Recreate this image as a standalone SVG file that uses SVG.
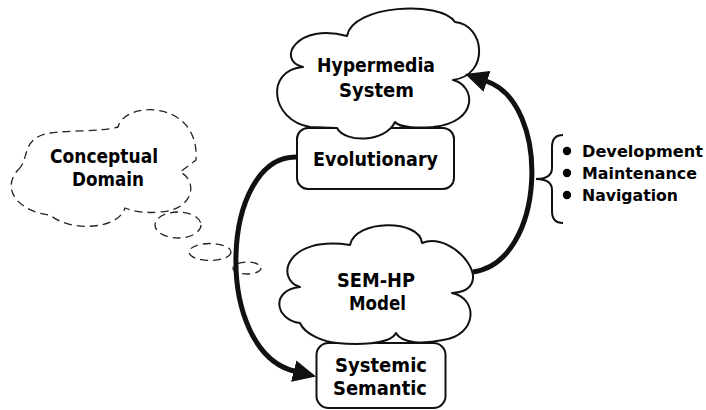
<svg xmlns="http://www.w3.org/2000/svg" width="706" height="410" viewBox="0 0 706 410">
<style>
.t{font-family:"DejaVu Sans","Verdana",sans-serif;font-weight:bold;font-size:19px;fill:#000}
.s{font-family:"DejaVu Sans","Verdana",sans-serif;font-weight:bold;font-size:16.5px;fill:#000}
.cloud{fill:#fff;stroke:#111;stroke-width:2;stroke-linejoin:round}
.dash{fill:#fff;stroke:#222;stroke-width:1.3;stroke-dasharray:8 5}
.box{fill:#fff;stroke:#111;stroke-width:2}
.arr{fill:none;stroke:#111;stroke-width:5}
.brace{fill:none;stroke:#111;stroke-width:2}
</style>
<defs>
<marker id="ah" markerUnits="userSpaceOnUse" markerWidth="23" markerHeight="22" viewBox="0 0 23 22" refX="1" refY="11" orient="auto">
<path d="M0,0 L23,11 L0,22 z" fill="#111"/>
</marker>
</defs>
<rect width="706" height="410" fill="#fff"/>

<g id="conceptual-domain">
<path class="dash" d="M18,170 C30,160 20,138 50,133 C70,130 100,132 118,127 C125,100 200,100 196,160 L180,172 C198,180 195,210 160,212 Q140,214 125,208 C118,230 70,232 50,215 C20,212 0,190 18,170 Z"/>
<text class="t" x="50" y="163" textLength="108" lengthAdjust="spacingAndGlyphs">Conceptual</text>
<text class="t" x="72" y="185.5" textLength="72" lengthAdjust="spacingAndGlyphs">Domain</text>
</g>

<g id="thought-bubbles">
<ellipse class="dash" cx="178" cy="225" rx="23" ry="13"/>
<ellipse class="dash" cx="210" cy="252" rx="21" ry="8.5"/>
<ellipse class="dash" cx="247" cy="268" rx="14" ry="6"/>
</g>

<g id="evolutionary">
<rect class="box" x="297" y="128" width="157" height="61" rx="11"/>
<text class="t" x="313" y="166" textLength="125" lengthAdjust="spacingAndGlyphs">Evolutionary</text>
</g>

<g id="hypermedia-system">
<path class="cloud" d="M303,67 C275,60 298,22 347,36 C352,5 440,0 455,22 C485,25 490,75 453,80 C475,85 480,122 433,127 C420,128 400,128 395,122 C385,143 345,143 337,128 L310,127 C270,120 265,70 303,67 Z"/>
<text class="t" x="317" y="72" textLength="118" lengthAdjust="spacingAndGlyphs">Hypermedia</text>
<text class="t" x="339" y="96.5" textLength="75" lengthAdjust="spacingAndGlyphs">System</text>
</g>

<g id="systemic-semantic">
<rect class="box" x="316.5" y="343" width="129" height="65" rx="12"/>
<text class="t" x="335" y="372" textLength="92" lengthAdjust="spacingAndGlyphs">Systemic</text>
<text class="t" x="333" y="395" textLength="94" lengthAdjust="spacingAndGlyphs">Semantic</text>
</g>

<g id="sem-hp-model">
<path class="cloud" d="M300,287 C275,280 285,235 350,245 C355,219 420,219 422,243 C455,230 500,290 452,293 C478,298 478,335 443,340 C425,344 402,344 396,333 C390,345 355,345 337,343 C325,342 305,335 300,323 C275,320 270,290 300,287 Z"/>
<text class="t" x="337" y="287" textLength="78" lengthAdjust="spacingAndGlyphs">SEM-HP</text>
<text class="t" x="349" y="310" textLength="57" lengthAdjust="spacingAndGlyphs">Model</text>
</g>

<g id="connectors">
<path class="arr" d="M297,157 C220,155 212,351 294.7,371.3" marker-end="url(#ah)"/>
<path class="arr" d="M473,272 C546,262 552,103 486,81" marker-end="url(#ah)"/>
</g>

<g id="activities">
<path class="brace" d="M563,135 Q552,135 552,147 L552,168 Q552,179 536,179 Q552,179 552,190 L552,211 Q552,223 563,223"/>
<circle cx="567" cy="151" r="4.2" fill="#000"/>
<circle cx="567" cy="173" r="4.2" fill="#000"/>
<circle cx="567" cy="195" r="4.2" fill="#000"/>
<text class="s" x="582" y="157" textLength="121" lengthAdjust="spacingAndGlyphs">Development</text>
<text class="s" x="582" y="179" textLength="115" lengthAdjust="spacingAndGlyphs">Maintenance</text>
<text class="s" x="582" y="201" textLength="96" lengthAdjust="spacingAndGlyphs">Navigation</text>
</g>
</svg>
